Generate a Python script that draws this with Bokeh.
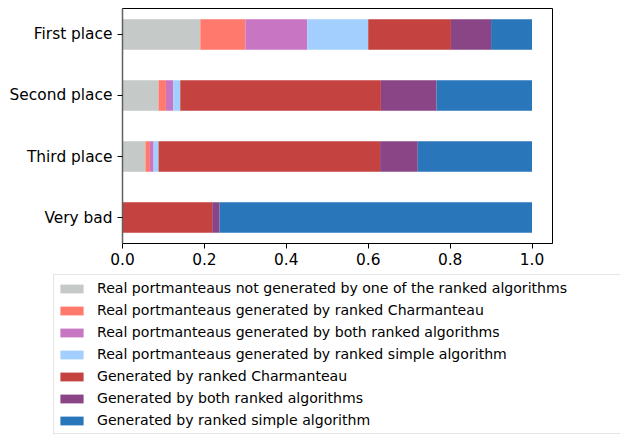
from bokeh.plotting import figure
from bokeh.models import (Range1d, FactorRange, FixedTicker, NumeralTickFormatter,
                          ColumnDataSource, Legend, LegendItem)
from bokeh.embed import file_html
from bokeh.resources import INLINE

categories = ["Very bad", "Third place", "Second place", "First place"]

real_not_generated = [0.0, 0.056, 0.088, 0.190]
real_charmanteau = [0.0, 0.011, 0.018, 0.110]
real_both = [0.0, 0.009, 0.018, 0.151]
real_simple = [0.0, 0.012, 0.017, 0.149]
gen_charmanteau = [0.219, 0.541, 0.490, 0.202]
gen_both = [0.018, 0.092, 0.136, 0.098]
gen_simple = [0.763, 0.279, 0.233, 0.100]

series_names = ["real_not_generated", "real_charmanteau", "real_both", "real_simple",
                "gen_charmanteau", "gen_both", "gen_simple"]
series_labels = [
    "Real portmanteaus not generated by one of the ranked algorithms",
    "Real portmanteaus generated by ranked Charmanteau",
    "Real portmanteaus generated by both ranked algorithms",
    "Real portmanteaus generated by ranked simple algorithm",
    "Generated by ranked Charmanteau",
    "Generated by both ranked algorithms",
    "Generated by ranked simple algorithm",
]
colors = ["#c5c9c7", "#ff796c", "#c875c4", "#a2cffe", "#c44240", "#894585", "#2976bb"]
x_ticks = [0.0, 0.2, 0.4, 0.6, 0.8, 1.0]

source = ColumnDataSource(dict(
    cat=categories,
    real_not_generated=real_not_generated,
    real_charmanteau=real_charmanteau,
    real_both=real_both,
    real_simple=real_simple,
    gen_charmanteau=gen_charmanteau,
    gen_both=gen_both,
    gen_simple=gen_simple,
))

FONT = "DejaVu Sans"

# ---- main chart ----
p = figure(width=620, height=272, output_backend="svg", toolbar_location=None,
           y_range=FactorRange(factors=categories, range_padding=-0.075,
                               range_padding_units="absolute"),
           x_range=Range1d(0, 1.05))
p.min_border_left = 122
p.min_border_right = 68
p.min_border_top = 8
p.min_border_bottom = 29

p.hbar_stack(series_names, y="cat", height=0.5, color=colors, source=source, line_width=0)

p.xgrid.visible = False
p.ygrid.visible = False
p.outline_line_color = "black"
p.outline_line_width = 1

p.xaxis.ticker = FixedTicker(ticks=x_ticks)
p.xaxis.formatter = NumeralTickFormatter(format="0.0")
for ax in (p.xaxis[0], p.yaxis[0]):
    ax.major_label_text_font = FONT
    ax.major_label_text_font_size = "15.4px"
    ax.major_label_text_color = "black"
    ax.major_tick_in = 0
    ax.major_tick_out = 5
    ax.minor_tick_line_color = None
    ax.major_tick_line_color = "black"
    ax.axis_line_color = "black"
p.xaxis[0].major_label_standoff = 4
p.yaxis[0].major_label_standoff = 5
p.yaxis[0].axis_line_color = "#606060"
p.yaxis[0].axis_line_width = 1.5

# ---- legend panel: a second root so the legend is not clipped by the chart frame ----
p2 = figure(width=620, height=163, output_backend="svg", toolbar_location=None,
            y_range=FactorRange(factors=categories), x_range=Range1d(0, 1.05))
p2.min_border_left = 0
p2.min_border_right = 0
p2.min_border_top = 0
p2.min_border_bottom = 0
p2.xaxis.visible = False
p2.yaxis.visible = False
p2.xgrid.visible = False
p2.ygrid.visible = False
p2.outline_line_color = None

legend_renderers = p2.hbar_stack(series_names, y="cat", height=0.5, color=colors,
                                 source=source, line_width=0)
for r in legend_renderers:
    r.visible = False
items = [LegendItem(label=lab, renderers=[r]) for lab, r in zip(series_labels, legend_renderers)]

leg = Legend(items=items, location=(53, 1))
leg.label_text_font = FONT
leg.label_text_font_size = "14.1px"
leg.label_text_color = "black"
leg.glyph_width = 29
leg.glyph_height = 11
leg.label_height = 20
leg.label_width = 580
leg.spacing = 2
leg.padding = 3
leg.margin = 0
leg.label_standoff = 11
leg.border_line_color = "#cccccc"
leg.border_line_width = 1
leg.background_fill_alpha = 0.9
leg.inactive_fill_alpha = 0.0
p2.add_layout(leg, "center")

open("out.html", "w").write(file_html([p, p2], INLINE))
